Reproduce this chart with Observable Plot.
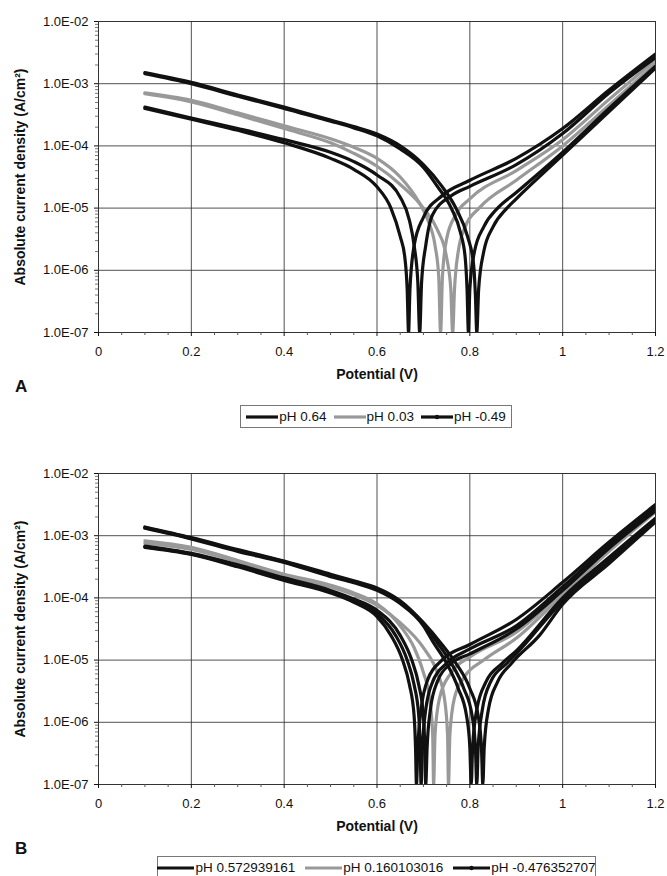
<!DOCTYPE html>
<html>
<head>
<meta charset="utf-8">
<script src="https://cdn.jsdelivr.net/npm/d3@7"></script>
<script src="https://cdn.jsdelivr.net/npm/@observablehq/plot@0.6"></script>
<style>
  body { margin: 0; background: #fff; font-family: "Liberation Sans", Arial, sans-serif; }
  #wrap { position: relative; width: 667px; height: 876px; overflow: hidden; background: #fff; }
  .panel { position: absolute; left: 0; }
  .tag { position: absolute; left: 15px; font-weight: bold; font-size: 17px; color: #111; line-height: 1; }
  .legend { position: absolute; border: 1px solid #777; height: 23px; box-sizing: border-box;
            display: flex; align-items: center; padding: 0 4px; font-size: 13.5px; color: #111; white-space: nowrap; }
  .item { display: flex; align-items: center; }
  .item svg { margin-right: 1px; }
</style>
</head>
<body>
<div id="wrap"></div>
<script>
// ---------- axis ticks & labels ----------
const xTicks = [0, 0.2, 0.4, 0.6, 0.8, 1, 1.2];
const xTickLabels = ["0", "0.2", "0.4", "0.6", "0.8", "1", "1.2"];
const xMinor = [0.05,0.1,0.15,0.25,0.3,0.35,0.45,0.5,0.55,0.65,0.7,0.75,0.85,0.9,0.95,1.05,1.1,1.15];
const yTicks = [1e-7, 1e-6, 1e-5, 1e-4, 1e-3, 1e-2];
const yTickLabels = ["1.0E-07", "1.0E-06", "1.0E-05", "1.0E-04", "1.0E-03", "1.0E-02"];
const yMinor = [1e-7,1e-6,1e-5,1e-4,1e-3].flatMap(d => [2,3,4,5,6,7,8,9].map(k => k * d));
const xTitle = "Potential (V)";
const yTitle = "Absolute current density (A/cm²)";

// ---------- panel A series (Potential V, |current density| A/cm2) ----------
const seriesA = ["pH 0.64", "pH 0.03", "pH -0.49"];
const a1 = [[0.1,4.0e-4],[0.2,2.7e-4],[0.3,1.78e-4],[0.4,1.12e-4],[0.5,6.3e-5],[0.55,4.2e-5],[0.6,2.2e-5],[0.63,1.0e-5],[0.65,3.5e-6],[0.66,1.6e-6],[0.665,5.0e-7],[0.668,1e-7],[0.671,5.0e-7],[0.68,2.5e-6],[0.70,7.1e-6],[0.74,1.58e-5],[0.8,2.8e-5],[0.9,6.3e-5],[1.0,1.9e-4],[1.1,7.9e-4],[1.2,3.0e-3]];
const a2 = [[0.1,4.2e-4],[0.2,2.8e-4],[0.3,1.9e-4],[0.4,1.26e-4],[0.5,7.9e-5],[0.55,5.6e-5],[0.6,3.4e-5],[0.65,1.5e-5],[0.67,6.3e-6],[0.68,2.5e-6],[0.688,6.3e-7],[0.692,1e-7],[0.696,6.3e-7],[0.705,2.5e-6],[0.72,7.9e-6],[0.76,1.58e-5],[0.8,2.24e-5],[0.9,5.0e-5],[1.0,1.58e-4],[1.1,7.1e-4],[1.2,2.63e-3]];
const a3 = [[0.1,7.1e-4],[0.2,5.4e-4],[0.3,3.4e-4],[0.4,2.1e-4],[0.5,1.3e-4],[0.55,9.5e-5],[0.6,6.3e-5],[0.65,3.16e-5],[0.69,1.26e-5],[0.71,6.3e-6],[0.725,2.5e-6],[0.733,7.9e-7],[0.737,1e-7],[0.741,7.9e-7],[0.75,3.2e-6],[0.77,7.9e-6],[0.8,1.41e-5],[0.9,4.0e-5],[1.0,1.26e-4],[1.1,5.6e-4],[1.2,2.4e-3]];
const a4 = [[0.1,6.9e-4],[0.2,5.1e-4],[0.3,3.16e-4],[0.4,1.9e-4],[0.5,1.12e-4],[0.55,7.6e-5],[0.6,4.7e-5],[0.65,2.4e-5],[0.7,1.0e-5],[0.73,4.5e-6],[0.75,1.6e-6],[0.759,5.0e-7],[0.763,1e-7],[0.767,5.0e-7],[0.775,2.0e-6],[0.79,5.0e-6],[0.82,1.0e-5],[0.9,2.8e-5],[1.0,1.0e-4],[1.1,4.5e-4],[1.2,2.09e-3]];
const a5 = [[0.1,1.45e-3],[0.2,1.0e-3],[0.3,6.3e-4],[0.4,4.0e-4],[0.5,2.5e-4],[0.55,1.95e-4],[0.6,1.45e-4],[0.65,8.9e-5],[0.7,4.5e-5],[0.73,2.24e-5],[0.76,1.0e-5],[0.78,4.0e-6],[0.79,1.6e-6],[0.794,5.0e-7],[0.797,1e-7],[0.80,5.0e-7],[0.81,2.0e-6],[0.83,5.0e-6],[0.86,1.0e-5],[0.9,1.78e-5],[1.0,7.9e-5],[1.1,4.0e-4],[1.2,1.91e-3]];
const a6 = [[0.1,1.51e-3],[0.2,1.05e-3],[0.3,6.6e-4],[0.4,4.2e-4],[0.5,2.6e-4],[0.55,2.05e-4],[0.6,1.55e-4],[0.65,1.0e-4],[0.7,5.0e-5],[0.74,2.24e-5],[0.77,1.0e-5],[0.795,3.5e-6],[0.808,1.26e-6],[0.812,4.0e-7],[0.815,1e-7],[0.819,5.0e-7],[0.83,2.0e-6],[0.85,5.0e-6],[0.88,1.0e-5],[0.9,1.41e-5],[1.0,7.1e-5],[1.1,3.55e-4],[1.2,1.78e-3]];

// ---------- panel B series ----------
const seriesB = ["pH 0.572939161", "pH 0.160103016", "pH -0.476352707"];
const b1 = [[0.1,6.5e-4],[0.2,5.0e-4],[0.3,3.16e-4],[0.4,1.9e-4],[0.5,1.2e-4],[0.55,8.5e-5],[0.6,5.0e-5],[0.63,2.5e-5],[0.655,1.0e-5],[0.67,4.0e-6],[0.68,1.26e-6],[0.683,4.0e-7],[0.685,1e-7],[0.688,4.0e-7],[0.695,1.6e-6],[0.71,5.0e-6],[0.74,1.0e-5],[0.8,1.78e-5],[0.9,4.5e-5],[1.0,1.78e-4],[1.1,7.9e-4],[1.2,3.16e-3]];
const b2 = [[0.1,6.6e-4],[0.2,5.1e-4],[0.3,3.3e-4],[0.4,2.0e-4],[0.5,1.26e-4],[0.55,9.0e-5],[0.6,5.6e-5],[0.64,2.5e-5],[0.665,1.0e-5],[0.68,4.0e-6],[0.69,1.26e-6],[0.693,4.0e-7],[0.695,1e-7],[0.698,4.0e-7],[0.705,1.6e-6],[0.72,4.5e-6],[0.75,8.9e-6],[0.8,1.51e-5],[0.9,3.55e-5],[1.0,1.51e-4],[1.1,7.1e-4],[1.2,2.82e-3]];
const b3 = [[0.1,6.8e-4],[0.2,5.2e-4],[0.3,3.4e-4],[0.4,2.1e-4],[0.5,1.32e-4],[0.55,9.6e-5],[0.6,6.3e-5],[0.65,2.5e-5],[0.675,1.0e-5],[0.69,4.0e-6],[0.70,1.26e-6],[0.703,4.0e-7],[0.705,1e-7],[0.708,4.0e-7],[0.715,1.6e-6],[0.73,4.5e-6],[0.76,8.9e-6],[0.8,1.26e-5],[0.9,3.16e-5],[1.0,1.32e-4],[1.1,6.3e-4],[1.2,2.51e-3]];
const b4 = [[0.1,8.3e-4],[0.2,6.5e-4],[0.3,4.0e-4],[0.4,2.4e-4],[0.5,1.6e-4],[0.55,1.2e-4],[0.6,8.0e-5],[0.65,3.55e-5],[0.68,1.58e-5],[0.70,6.3e-6],[0.713,2.5e-6],[0.72,6.3e-7],[0.722,1e-7],[0.725,6.3e-7],[0.735,2.5e-6],[0.76,6.3e-6],[0.8,1.12e-5],[0.9,2.8e-5],[1.0,1.26e-4],[1.1,6.3e-4],[1.2,2.63e-3]];
const b5 = [[0.1,7.6e-4],[0.2,6.0e-4],[0.3,3.8e-4],[0.4,2.24e-4],[0.5,1.5e-4],[0.55,1.12e-4],[0.6,7.6e-5],[0.65,4.0e-5],[0.7,1.58e-5],[0.73,6.3e-6],[0.745,2.5e-6],[0.752,6.3e-7],[0.754,1e-7],[0.757,6.3e-7],[0.767,2.5e-6],[0.79,5.6e-6],[0.83,1.0e-5],[0.9,2.24e-5],[1.0,1.12e-4],[1.1,5.6e-4],[1.2,2.4e-3]];
const b6 = [[0.1,1.32e-3],[0.2,8.9e-4],[0.3,5.6e-4],[0.4,3.7e-4],[0.5,2.2e-4],[0.55,1.75e-4],[0.6,1.32e-4],[0.65,8.1e-5],[0.7,3.55e-5],[0.72,2.0e-5],[0.75,8.9e-6],[0.775,3.5e-6],[0.793,1.26e-6],[0.8,4.0e-7],[0.803,1e-7],[0.806,4.0e-7],[0.815,1.6e-6],[0.835,4.5e-6],[0.87,8.9e-6],[0.9,1.41e-5],[1.0,1.0e-4],[1.1,4.5e-4],[1.2,1.91e-3]];
const b7 = [[0.1,1.35e-3],[0.2,9.1e-4],[0.3,5.8e-4],[0.4,3.8e-4],[0.5,2.3e-4],[0.55,1.8e-4],[0.6,1.38e-4],[0.65,8.5e-5],[0.7,3.8e-5],[0.73,1.9e-5],[0.76,8.9e-6],[0.787,3.5e-6],[0.805,1.26e-6],[0.812,4.0e-7],[0.815,1e-7],[0.818,4.0e-7],[0.827,1.6e-6],[0.845,4.5e-6],[0.88,8.9e-6],[0.9,1.26e-5],[1.0,8.9e-5],[1.1,4.0e-4],[1.2,1.78e-3]];
const b8 = [[0.1,1.38e-3],[0.2,9.3e-4],[0.3,6.0e-4],[0.4,3.9e-4],[0.5,2.4e-4],[0.55,1.88e-4],[0.6,1.45e-4],[0.65,9.0e-5],[0.7,4.0e-5],[0.74,1.78e-5],[0.77,8.9e-6],[0.80,3.5e-6],[0.818,1.26e-6],[0.825,4.0e-7],[0.828,1e-7],[0.831,4.0e-7],[0.84,1.6e-6],[0.86,4.5e-6],[0.89,8.9e-6],[0.95,2.5e-5],[1.0,7.9e-5],[1.1,3.55e-4],[1.2,1.66e-3]];

const seriesColors = ["#111", "#999", "#111"];

const curvesA = [[a1,0],[a2,0],[a3,1],[a4,1],[a5,2],[a6,2]];
const curvesB = [[b1,0],[b2,0],[b3,0],[b4,1],[b5,1],[b6,2],[b7,2],[b8,2]];

function buildRows(curves) {
  return curves.flatMap(([pts, s], id) => pts.map(([V, I]) => ({V, I, id, s})));
}

function panel(curves) {
  const rows = buildRows(curves);
  const lineMarks = [1, 0, 2].map(s => Plot.line(rows.filter(r => r.s === s), {
    x: "V", y: "I", z: "id", stroke: seriesColors[s], strokeWidth: 3.2,
    curve: "monotone-x", clip: true
  }));
  return Plot.plot({
    width: 667, height: 400,
    marginLeft: 98, marginRight: 12, marginTop: 21, marginBottom: 68,
    style: { fontFamily: "'Liberation Sans', Arial, sans-serif", fontSize: "13px", color: "#111", background: "transparent" },
    x: { domain: [0, 1.2] },
    y: { type: "log", domain: [1e-7, 1e-2] },
    marks: [
      Plot.gridX(xTicks.slice(1), { stroke: "#333", strokeOpacity: 0.85, strokeWidth: 1 }),
      Plot.gridY(yTicks, { stroke: "#333", strokeOpacity: 0.85, strokeWidth: 1 }),
      Plot.frame({ stroke: "#333", strokeWidth: 1 }),
      Plot.axisX(xMinor, { tickSize: 3, tickFormat: () => "", label: null, stroke: "#555" }),
      Plot.axisY(yMinor, { tickSize: 3, tickFormat: () => "", label: null, stroke: "#777" }),
      Plot.axisX(xTicks, { tickSize: 4, tickPadding: 10, tickFormat: d => xTickLabels[xTicks.indexOf(d)], label: null, fontSize: 13 }),
      Plot.axisY(yTicks, { tickSize: 4, tickPadding: 6, tickFormat: d => yTickLabels[yTicks.indexOf(d)], label: null, fontSize: 13 }),
      ...lineMarks,
      Plot.text([xTitle], { text: d => d, frameAnchor: "bottom", dy: 46, fontWeight: "bold", fontSize: 14, textAnchor: "middle", fill: "#111" }),
      Plot.text([yTitle], { text: d => d, frameAnchor: "left", dx: -78, rotate: -90, fontWeight: "bold", fontSize: 14, textAnchor: "middle", fill: "#111" })
    ]
  });
}

function legend(names, left, top, width, lineW, gap) {
  const div = document.createElement("div");
  div.className = "legend";
  div.style.left = left + "px";
  div.style.top = top + "px";
  div.style.width = width + "px";
  div.style.justifyContent = "center";
  names.forEach((name, i) => {
    const item = document.createElement("span");
    item.className = "item";
    if (i < names.length - 1) item.style.marginRight = gap + "px";
    const marker = i === 2 ? `<circle cx="${lineW / 2}" cy="5" r="2.2" fill="${seriesColors[i]}"/>` : "";
    item.innerHTML = `<svg width="${lineW}" height="10"><line x1="0" x2="${lineW}" y1="5" y2="5" stroke="${seriesColors[i]}" stroke-width="3.2"/>${marker}</svg><span>${name}</span>`;
    div.appendChild(item);
  });
  return div;
}

const wrap = document.getElementById("wrap");
const pa = panel(curvesA); pa.classList.add("panel"); pa.style.top = "0px"; wrap.appendChild(pa);
const pb = panel(curvesB); pb.classList.add("panel"); pb.style.top = "452px"; wrap.appendChild(pb);

const tagA = document.createElement("div"); tagA.className = "tag"; tagA.textContent = "A"; tagA.style.top = "378px"; wrap.appendChild(tagA);
const tagB = document.createElement("div"); tagB.className = "tag"; tagB.textContent = "B"; tagB.style.top = "840px"; wrap.appendChild(tagB);

wrap.appendChild(legend(seriesA, 240, 405, 272, 32, 7));
wrap.appendChild(legend(seriesB, 157, 856, 439, 37, 10));
</script>
</body>
</html>
